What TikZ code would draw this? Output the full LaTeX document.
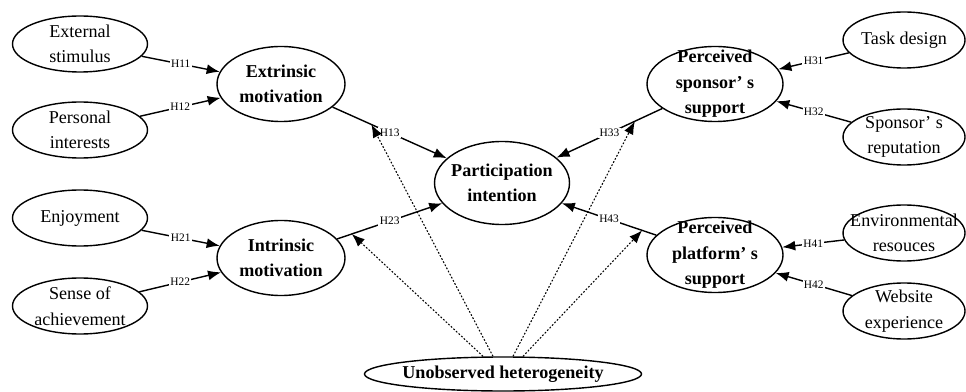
\documentclass[tikz,border=0pt]{standalone}
\usepackage{fontspec}
\setmainfont{Liberation Serif}
\usetikzlibrary{arrows.meta,shapes.geometric}

\tikzset{
  txt/.style={align=center, font=\fontsize{10.3}{14.5}\selectfont},
  obs/.style={ellipse, draw, line width=0.8pt, minimum width=27mm, minimum height=11.2mm,
    label={[txt]center:#1}},
  lat/.style={ellipse, draw, line width=0.8pt, minimum width=25.6mm, minimum height=15mm,
    label={[txt,font=\fontsize{10.3}{14.5}\selectfont\bfseries]center:#1}},
  hyp/.style={-{Latex[length=2.6mm,width=2mm]}, line width=0.8pt},
  mod/.style={-{Latex[length=2.6mm,width=2mm]}, dash pattern=on 1pt off 1pt, line width=0.6pt},
  hlbl/.style={fill=white, inner sep=0.8pt, font=\fontsize{6.5}{7}\selectfont},
}

\begin{document}
\begin{tikzpicture}[x=0.2mm, y=-0.2mm]
  \useasboundingbox (0,0) rectangle (966,392);

  % left side
  \node[obs={External\\stimulus}] (stim) at (80,44) {};
  \node[obs={Personal\\interests}] (pers) at (80,130) {};
  \node[obs={Enjoyment}] (enj) at (80,218) {};
  \node[obs={Sense of\\achievement}] (ach) at (80,306) {};
  \node[lat={Extrinsic\\motivation}] (extr) at (281,84) {};
  \node[lat={Intrinsic\\motivation}] (intr) at (281,258) {};

  % centre
  \node[lat={Participation\\intention}, minimum width=27mm, minimum height=16.6mm] (part) at (502,183) {};
  \node[lat={Unobserved heterogeneity}, minimum width=55.4mm, minimum height=6.8mm] (unobs) at (503,374) {};

  % right side
  \node[lat={Perceived\\sponsor’ s\\support}, minimum width=27.2mm] (spons) at (715,84) {};
  \node[lat={Perceived\\platform’ s\\support}, minimum width=27.2mm] (plat) at (715,255) {};
  \node[obs={Task design}, minimum width=24.4mm] (task) at (904,40) {};
  \node[obs={Sponsor’ s\\reputation}, minimum width=24.4mm] (rep) at (904,137) {};
  \node[obs={Environmental\\resouces}, minimum width=24.4mm] (env) at (904,233) {};
  \node[obs={Website\\experience}, minimum width=24.4mm] (web) at (904,311) {};

  \foreach \a/\b/\h in {stim/extr/H11, pers/extr/H12, enj/intr/H21, ach/intr/H22,
                        task/spons/H31, rep/spons/H32, env/plat/H41, web/plat/H42}
    \draw[hyp] (\a) -- node[hlbl] {\h} (\b);

  \foreach \a/\h/\p in {extr/H13/0.34, intr/H23/0.14, spons/H33/0.26, plat/H43/0.15}
    \draw[hyp] (\a) -- node[hlbl] {\h} coordinate[pos=\p] (m\h) (part);

  % moderation by unobserved heterogeneity
  \foreach \h/\s in {H23/-4mm, H13/-2mm, H33/2mm, H43/4mm}
    \draw[mod] ([xshift=\s]unobs.north) -- (m\h);
\end{tikzpicture}
\end{document}
